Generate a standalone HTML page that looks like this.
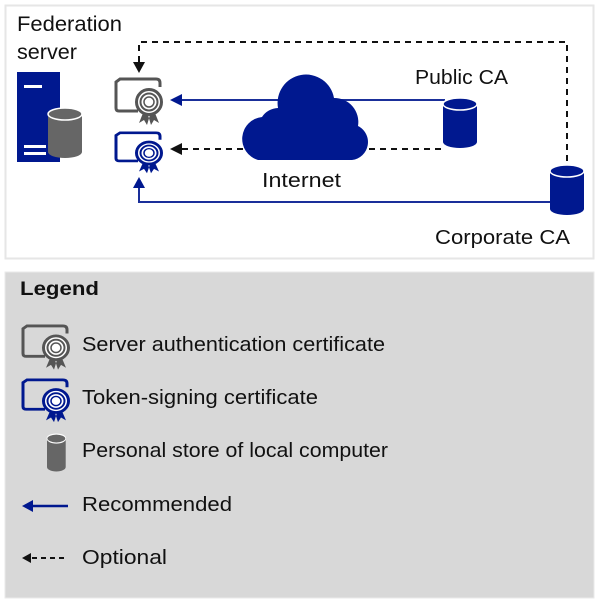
<!DOCTYPE html>
<html><head><meta charset="utf-8"><style>
body{margin:0;background:#fff}
svg{display:block}
text{font-family:"Liberation Sans",sans-serif;fill:#111}
</style></head><body>
<svg width="600" height="600" viewBox="0 0 600 600">
<defs>
<g id="cert">
 <path d="M22 34 H3 Q0 34 0 31 V5 L4 2 H40 Q44 2 44 6 V10" fill="none" stroke-width="3"/>
 <path d="M27 36 l-4 10 l5 -3 l3 5 l3 -10 M39 36 l4 10 l-5 -3 l-3 5 l-3 -10" stroke="none"/>
 <circle cx="33" cy="25" r="12.5" fill="#fff" stroke-width="3"/>
 <circle cx="33" cy="25" r="8.5" fill="#fff" stroke-width="2"/>
 <circle cx="33" cy="25" r="5" fill="#fff" stroke-width="1.5"/>
</g>
<g id="cyl">
 <path d="M0 6 V44 A17 6 0 0 0 34 44 V6" stroke="none"/>
 <ellipse cx="17" cy="6" rx="17" ry="6" stroke="#fff" stroke-width="1.5"/>
</g>
</defs>
<rect x="5.5" y="5.5" width="588" height="253" fill="#fff" stroke="#e6e6e6" stroke-width="2"/>
<rect x="5" y="272" width="589" height="326" fill="#d8d8d8" stroke="#eaeaea"/>
<text x="17" y="31" font-size="21" textLength="105" lengthAdjust="spacingAndGlyphs">Federation</text>
<text x="17" y="59" font-size="21" textLength="60" lengthAdjust="spacingAndGlyphs">server</text>
<!-- server -->
<rect x="17" y="72" width="43" height="90" fill="#00188f"/>
<rect x="24" y="85" width="18" height="3" fill="#fff"/>
<rect x="24" y="145" width="22" height="3" fill="#fff"/>
<rect x="24" y="152" width="22" height="3" fill="#fff"/>
<g fill="#666" transform="translate(48,108)"><use href="#cyl"/></g>
<!-- lines -->
<path d="M139 62 V42 H567 V166" fill="none" stroke="#111" stroke-width="2" stroke-dasharray="6,5"/>
<path d="M133 62 L145 62 L139 73 Z" fill="#111"/>
<line x1="180" y1="100" x2="445" y2="100" stroke="#1a2f9a" stroke-width="2"/>
<path d="M170 100 L182 94 L182 106 Z" fill="#00188f"/>
<line x1="182" y1="149" x2="445" y2="149" stroke="#111" stroke-width="2" stroke-dasharray="6,5"/>
<path d="M170 149 L182 143 L182 155 Z" fill="#111"/>
<path d="M139 188 V202 H551" fill="none" stroke="#1a2f9a" stroke-width="2"/>
<path d="M139 177 L133 188 L145 188 Z" fill="#00188f"/>
<!-- certs -->
<g fill="#555" stroke="#555" transform="translate(116,77)"><use href="#cert"/></g>
<g fill="#00188f" stroke="#00188f" transform="translate(116,131) scale(1,0.88)"><use href="#cert"/></g>
<!-- cloud -->
<path d="M258 160 A22 22 0 0 1 262 117 A20 20 0 0 1 278 108 A28 28 0 0 1 334 98 A24 24 0 0 1 358 126 A18 18 0 0 1 352 160 Z" fill="#00188f"/>
<text x="262" y="187" font-size="20" textLength="79" lengthAdjust="spacingAndGlyphs">Internet</text>
<g fill="#00188f" transform="translate(443,98)"><use href="#cyl"/></g>
<text x="415" y="84" font-size="20" textLength="93" lengthAdjust="spacingAndGlyphs">Public CA</text>
<g fill="#00188f" transform="translate(550,165)"><use href="#cyl"/></g>
<text x="435" y="244" font-size="20" textLength="135" lengthAdjust="spacingAndGlyphs">Corporate CA</text>
<!-- legend -->
<text x="20" y="295" font-size="19" font-weight="bold" textLength="79" lengthAdjust="spacingAndGlyphs">Legend</text>
<g fill="#555" stroke="#555" transform="translate(23,324) scale(1,0.95)"><use href="#cert"/></g>
<text x="82" y="351" font-size="20" textLength="303" lengthAdjust="spacingAndGlyphs">Server authentication certificate</text>
<g fill="#00188f" stroke="#00188f" transform="translate(23,378) scale(1,0.92)"><use href="#cert"/></g>
<text x="82" y="404" font-size="20" textLength="236" lengthAdjust="spacingAndGlyphs">Token-signing certificate</text>
<g fill="#666" transform="translate(47,434) scale(0.55,0.75)"><use href="#cyl"/></g>
<text x="82" y="457" font-size="20" textLength="306" lengthAdjust="spacingAndGlyphs">Personal store of local computer</text>
<line x1="30" y1="506" x2="68" y2="506" stroke="#00188f" stroke-width="2.5"/>
<path d="M22 506 L33 500 L33 512 Z" fill="#00188f"/>
<text x="82" y="511" font-size="20" textLength="150" lengthAdjust="spacingAndGlyphs">Recommended</text>
<line x1="32" y1="558" x2="68" y2="558" stroke="#111" stroke-width="2" stroke-dasharray="5,4"/>
<path d="M22 558 L31 553 L31 563 Z" fill="#111"/>
<text x="82" y="564" font-size="20" textLength="85" lengthAdjust="spacingAndGlyphs">Optional</text>
</svg>
</body></html>
